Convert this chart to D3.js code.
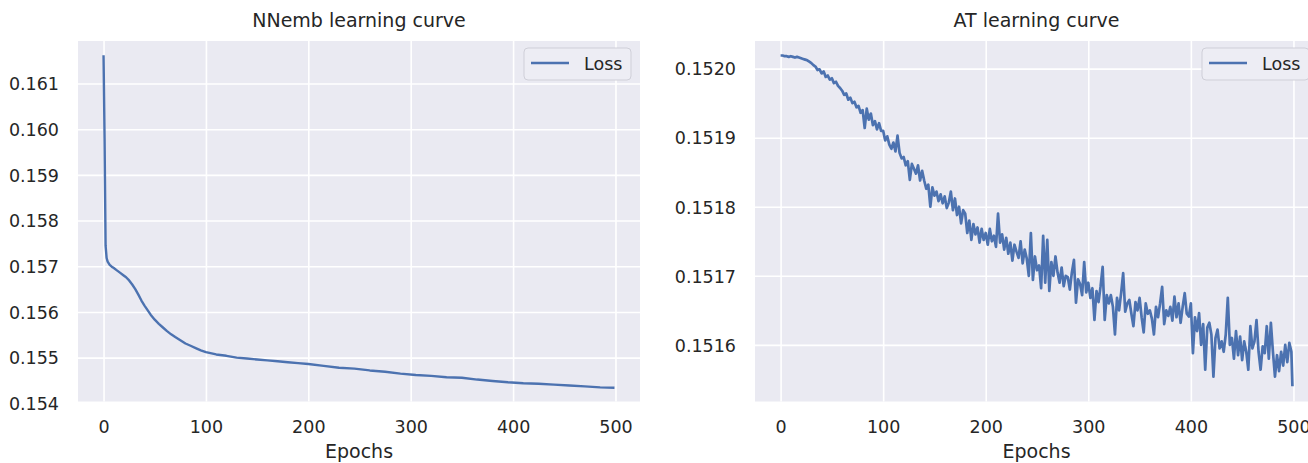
<!DOCTYPE html>
<html>
<head>
<meta charset="utf-8">
<script src="https://cdn.jsdelivr.net/npm/d3@7"></script>
<style>
  body { margin: 0; background: #fff; }
  svg text { font-family: "DejaVu Sans", sans-serif; fill: #262626; }
</style>
</head>
<body>
<svg id="chart" width="1308" height="463"></svg>
<script>
// x ticks shared by both panels
const epochTicks = [0, 100, 200, 300, 400, 500];

// NNemb learning curve
const nnEpochs = [0, 1, 2, 3, 4, 6, 8, 10, 13, 16, 19, 22, 25, 28, 31, 34, 37, 40, 43, 46,
  50, 54, 58, 62, 66, 70, 75, 80, 85, 90, 95, 100, 110, 120, 130, 140, 150, 160, 170, 180,
  190, 200, 215, 230, 245, 260, 275, 290, 305, 320, 335, 350, 365, 380, 395, 410, 425, 440,
  455, 470, 485, 499];
const nnLoss = [0.16162, 0.15980, 0.15745, 0.15718, 0.15710, 0.15703, 0.15699, 0.15696, 0.15691, 0.15686,
  0.15681, 0.15676, 0.15669, 0.15660, 0.15650, 0.15638, 0.15625, 0.15614, 0.15604, 0.15594,
  0.15583, 0.15574, 0.15566, 0.15558, 0.15551, 0.15545, 0.15538, 0.15531, 0.15526, 0.15521,
  0.15516, 0.15512, 0.15507, 0.15504, 0.15500, 0.15498, 0.15496, 0.15494, 0.15492, 0.15490,
  0.15488, 0.15486, 0.15482, 0.15478, 0.15476, 0.15472, 0.15469, 0.15465, 0.15462, 0.15460,
  0.15457, 0.15456, 0.15452, 0.15449, 0.15446, 0.15444, 0.15443, 0.15441, 0.15439, 0.15437,
  0.15435, 0.15434];
const nnTicks = [0.154, 0.155, 0.156, 0.157, 0.158, 0.159, 0.160, 0.161];

// AT learning curve, one value every 2 epochs (0..498) then epoch 499
const atLoss = [
  0.152019, 0.152019, 0.152018, 0.152018, 0.152017, 0.152018, 0.152017, 0.152016, 0.152017, 0.152016,
  0.152015, 0.152014, 0.152013, 0.152012, 0.152010, 0.152008, 0.152005, 0.152003, 0.151998, 0.151999,
  0.151993, 0.151996, 0.151988, 0.151990, 0.151984, 0.151986, 0.151979, 0.151981, 0.151975, 0.151972,
  0.151968, 0.151962, 0.151964, 0.151955, 0.151958, 0.151950, 0.151952, 0.151944, 0.151946, 0.151936,
  0.151940, 0.151914, 0.151942, 0.151926, 0.151935, 0.151918, 0.151924, 0.151912, 0.151921, 0.151910,
  0.151910, 0.151896, 0.151902, 0.151890, 0.151884, 0.151893, 0.151880, 0.151903, 0.151878, 0.151870,
  0.151872, 0.151860, 0.151866, 0.151839, 0.151862, 0.151855, 0.151848, 0.151860, 0.151838, 0.151852,
  0.151838, 0.151826, 0.151832, 0.151800, 0.151828, 0.151816, 0.151822, 0.151808, 0.151818, 0.151805,
  0.151815, 0.151798, 0.151806, 0.151822, 0.151795, 0.151812, 0.151788, 0.151800, 0.151776, 0.151795,
  0.151790, 0.151762, 0.151780, 0.151752, 0.151775, 0.151760, 0.151770, 0.151748, 0.151768, 0.151752,
  0.151762, 0.151745, 0.151768, 0.151750, 0.151758, 0.151742, 0.151790, 0.151748, 0.151760, 0.151738,
  0.151755, 0.151732, 0.151748, 0.151722, 0.151745, 0.151735, 0.151726, 0.151750, 0.151718, 0.151738,
  0.151725, 0.151700, 0.151762, 0.151694, 0.151728, 0.151708, 0.151715, 0.151682, 0.151758, 0.151690,
  0.151752, 0.151678, 0.151720, 0.151700, 0.151728, 0.151705, 0.151690, 0.151712, 0.151685, 0.151700,
  0.151698, 0.151680, 0.151705, 0.151723, 0.151661, 0.151695, 0.151688, 0.151672, 0.151720, 0.151676,
  0.151690, 0.151668, 0.151682, 0.151636, 0.151678, 0.151662, 0.151685, 0.151713, 0.151636, 0.151672,
  0.151660, 0.151672, 0.151655, 0.151615, 0.151668, 0.151650, 0.151675, 0.151704, 0.151648, 0.151660,
  0.151665, 0.151645, 0.151627, 0.151662, 0.151650, 0.151668, 0.151640, 0.151618, 0.151660, 0.151645,
  0.151650, 0.151638, 0.151615, 0.151655, 0.151640, 0.151660, 0.151684, 0.151630, 0.151650, 0.151642,
  0.151655, 0.151635, 0.151670, 0.151640, 0.151660, 0.151632, 0.151655, 0.151675, 0.151645, 0.151641,
  0.151660, 0.151588, 0.151640, 0.151620, 0.151646, 0.151600, 0.151630, 0.151564, 0.151625, 0.151632,
  0.151615, 0.151554, 0.151610, 0.151622, 0.151595, 0.151605, 0.151590, 0.151615, 0.151668, 0.151600,
  0.151610, 0.151580, 0.151620, 0.151585, 0.151612, 0.151578, 0.151605, 0.151590, 0.151564, 0.151627,
  0.151595, 0.151605, 0.151636, 0.151590, 0.151564, 0.151598, 0.151588, 0.151627, 0.151580, 0.151632,
  0.151590, 0.151554, 0.151585, 0.151562, 0.151590, 0.151570, 0.151600, 0.151575, 0.151603, 0.151590,
  0.151540];
const atEpochs = atLoss.map((d, i) => i < 250 ? i * 2 : 499);
const atTicks = [0.1516, 0.1517, 0.1518, 0.1519, 0.1520];

const LINE_COLOR = "#4C72B0";
const BG = "#EAEAF2";
const svg = d3.select("#chart");

function drawPanel(p) {
  const g = svg.append("g");
  const x = d3.scaleLinear().domain([-24.95, 523.95]).range([p.left, p.right]);
  const y = d3.scaleLinear().domain(p.yDomain).range([p.bottom, p.top]);

  g.append("rect").attr("x", p.left).attr("y", p.top)
    .attr("width", p.right - p.left).attr("height", p.bottom - p.top).attr("fill", BG);

  // 격자 + 눈금 (axis의 tick 선을 격자로 사용)
  const xAxis = g.append("g").attr("transform", `translate(0,${p.bottom})`)
    .call(d3.axisBottom(x).tickValues(epochTicks).tickSize(-(p.bottom - p.top)).tickPadding(0).tickFormat(d3.format("d")));
  xAxis.select(".domain").remove();
  xAxis.selectAll("line").attr("stroke", "#fff").attr("stroke-width", 1.6);
  xAxis.selectAll("text").attr("y", 31).attr("dy", null).style("font-size", "17.5px");

  const yAxis = g.append("g").attr("transform", `translate(${p.left},0)`)
    .call(d3.axisLeft(y).tickValues(p.yTicks).tickSize(-(p.right - p.left)).tickPadding(19).tickFormat(d3.format(p.fmt)));
  yAxis.select(".domain").remove();
  yAxis.selectAll("line").attr("stroke", "#fff").attr("stroke-width", 1.6);
  yAxis.selectAll("text").attr("dy", "0.36em").style("font-size", "17.5px");

  const line = d3.line().x((d, i) => x(p.epochs[i])).y(d => y(d));
  g.append("path").datum(p.loss).attr("d", line)
    .attr("fill", "none").attr("stroke", LINE_COLOR).attr("stroke-width", p.lw)
    .attr("stroke-linejoin", "round");

  g.append("text").attr("x", (p.left + p.right) / 2).attr("y", 27)
    .attr("text-anchor", "middle").style("font-size", "19px").text(p.title);
  g.append("text").attr("x", (p.left + p.right) / 2).attr("y", 458)
    .attr("text-anchor", "middle").style("font-size", "19px").text("Epochs");

  // 범례
  const lx = p.right - 116, ly = p.top + 7;
  g.append("rect").attr("x", lx).attr("y", ly).attr("width", 107).attr("height", 32).attr("rx", 4)
    .attr("fill", "#EDEDF4").attr("stroke", "#CFCFD8").attr("stroke-width", 1);
  g.append("line").attr("x1", lx + 7).attr("x2", lx + 45).attr("y1", ly + 15).attr("y2", ly + 15)
    .attr("stroke", LINE_COLOR).attr("stroke-width", 2.4);
  g.append("text").attr("x", lx + 60).attr("y", ly + 21.5).style("font-size", "17.5px").text("Loss");
}

drawPanel({ title: "NNemb learning curve", left: 78, right: 640, top: 41, bottom: 401.5, lw: 2.4,
  yDomain: [0.15404, 0.16193], yTicks: nnTicks, fmt: ".3f", epochs: nnEpochs, loss: nnLoss });
drawPanel({ title: "AT learning curve", left: 755, right: 1318, top: 41, bottom: 401.5, lw: 2.7,
  yDomain: [0.151518, 0.15204], yTicks: atTicks, fmt: ".4f", epochs: atEpochs, loss: atLoss });
</script>
</body>
</html>
